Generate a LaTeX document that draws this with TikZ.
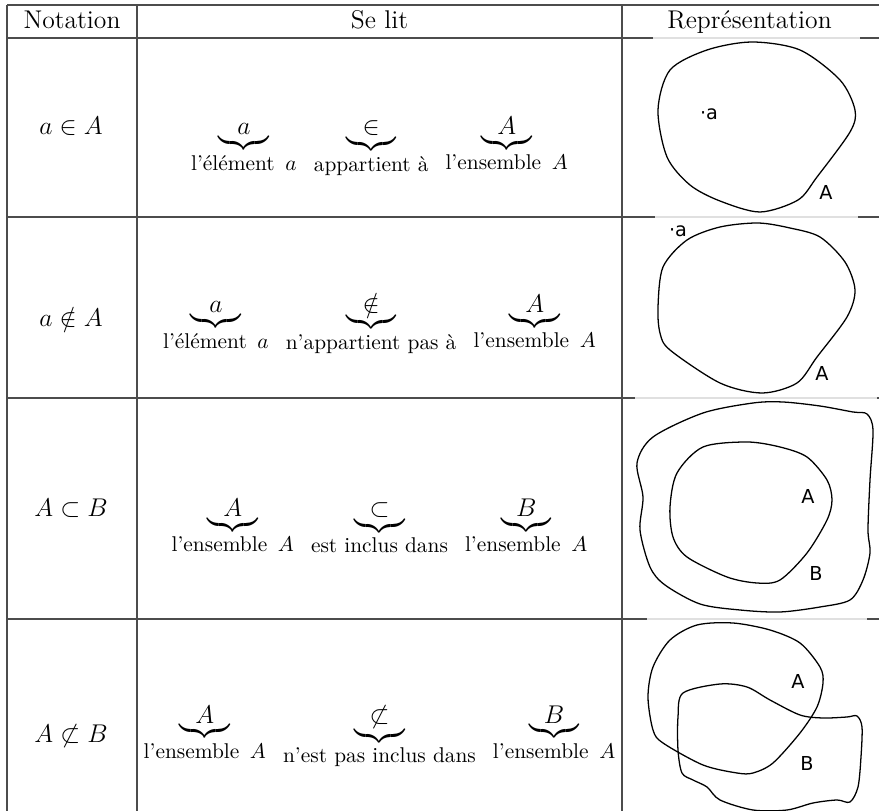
\documentclass[tikz,border=0pt]{standalone}
\usepackage{amsmath}
\usepackage{amssymb}
\usepackage{fontspec}
\newfontfamily\blobfont{DejaVu Sans}
\usepackage{tikz}

% brace with its reading underneath
\newcommand{\brc}[2]{\underbrace{\makebox[23.5pt]{$#1$}}_{\mbox{\normalsize #2}}}

\tikzset{
  tablerule/.style={black!70, line width=0.6pt},
  faintrule/.style={black!12, line width=0.6pt},
  blob/.style={line width=0.6pt},
  lbl/.style={font=\blobfont\fontsize{9}{10}\selectfont, inner sep=0pt},
}

\begin{document}
\begin{tikzpicture}[x=0.468pt, y=-0.468pt]
  \useasboundingbox (0,0) rectangle (879,811);

  % Draw the grid of the table
  \draw[tablerule] (7,5) -- (879,5);
  \foreach \y/\a/\b in {38/653/860, 217/655/858, 398/635/877, 619/647/867} {
    \draw[tablerule] (7,\y) -- (\a,\y);
    \draw[faintrule] (\a,\y) -- (\b,\y);
    \draw[tablerule] (\b,\y) -- (879,\y);
  }
  \foreach \x in {7,137,622}
    \draw[tablerule] (\x,5) -- (\x,811);

  % Header
  \node[anchor=base] (hnot) at (72,29) {\large Notation};
  \node[anchor=base] (hlit) at (379.5,29) {\large Se lit};
  \node[anchor=base] (hrep) at (749.5,29) {\large Représentation};

  % Row 1
  \node[anchor=base] (not1) at (71,135) {\large $a\in A$};
  \node[anchor=base] (lit1) at (379.5,135) {\large $\brc{a}{l'élément\hspace{5pt}$a$}\hspace{6pt}\brc{\in}{appartient à}\hspace{6pt}\brc{A}{l'ensemble\hspace{5pt}$A$}$};
  \draw[blob] plot[smooth cycle] coordinates {(752,42) (800,50) (840,80) (855,110) (850,132) (817,177) (798,200) (760,212) (720,201) (690,185) (667,157) (658,110) (670,70) (707,50)};
  \node[lbl] (pa1) at (709,114) {·a};
  \node[lbl] (pA1) at (826,192) {A};

  % Row 2
  \node[anchor=base] (not2) at (71,327) {\large $a\notin A$};
  \node[anchor=base] (lit2) at (379.5,313) {\large $\brc{a}{l'élément\hspace{5pt}$a$}\hspace{6pt}\brc{\notin}{n'appartient pas à}\hspace{6pt}\brc{A}{l'ensemble\hspace{5pt}$A$}$};
  \draw[blob] plot[smooth cycle] coordinates {(758,223) (790,228) (820,237) (845,262) (855,290) (847,317) (817,357) (797,383) (762,393) (720,383) (670,350) (660,333) (658,307) (663,267) (687,240) (720,227)};
  \node[lbl] (pa2) at (678,231) {·a};
  \node[lbl] (pA2) at (822,373) {A};

  % Row 3
  \node[anchor=base] (not3) at (71,517) {\large $A\subset B$};
  \node[anchor=base] (lit3) at (379.5,517) {\large $\brc{A}{l'ensemble\hspace{5pt}$A$}\hspace{6pt}\brc{\subset}{est inclus dans}\hspace{6pt}\brc{B}{l'ensemble\hspace{5pt}$A$}$};
  \draw[blob] plot[smooth cycle] coordinates {(783,402) (820,406) (853,412) (867,414) (873,430) (870,480) (868,530) (870,553) (863,580) (850,600) (820,607) (780,612) (740,610) (700,604) (665,585) (650,567) (640,530) (643,497) (637,463) (653,437) (703,413) (753,403)};
  \draw[blob] plot[smooth cycle] coordinates {(747,442) (780,447) (807,457) (827,480) (832,500) (827,520) (807,553) (780,580) (757,583) (727,577) (687,557) (673,537) (670,507) (677,473) (703,447)};
  \node[lbl] (pA3) at (808,496) {A};
  \node[lbl] (pB3) at (816,573) {B};

  % Row 4
  \node[anchor=base] (not4) at (71,743) {\large $A\not\subset B$};
  \node[anchor=base] (lit4) at (379.5,723) {\large $\brc{A}{l'ensemble\hspace{5pt}$A$}\hspace{6pt}\brc{\not\subset}{n'est pas inclus dans}\hspace{6pt}\brc{B}{l'ensemble\hspace{5pt}$A$}$};
  \draw[blob] plot[smooth cycle] coordinates {(733,623) (770,630) (800,643) (820,667) (823,683) (817,707) (800,733) (773,763) (753,773) (737,773) (703,765) (663,743) (653,730) (648,697) (653,667) (670,640) (697,625)};
  \draw[blob] plot[smooth cycle] coordinates {(678,717) (683,693) (720,684) (747,687) (770,700) (800,715) (823,718) (847,717) (857,716) (862,727) (861,757) (858,787) (850,802) (837,800) (813,803) (787,810) (753,810) (720,800) (707,787) (693,780) (682,773) (678,750)};
  \node[lbl] (pA4) at (798,681) {A};
  \node[lbl] (pB4) at (807,763) {B};
\end{tikzpicture}
\end{document}
